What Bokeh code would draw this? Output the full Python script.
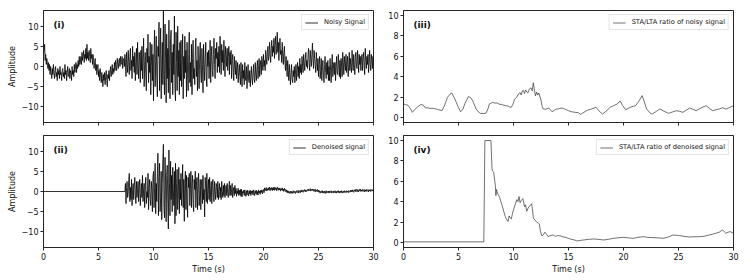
import numpy as np
from bokeh.plotting import figure
from bokeh.layouts import column, row
from bokeh.models import Label, FixedTicker, Range1d, CustomLabelingPolicy
from bokeh.embed import file_html
from bokeh.resources import INLINE

# ---------------- data ----------------
DT = 0.05  # sampling step of the traced signals (s)

noisy_signal = [
    2.5, 4.0, 5.5, 1.5, 3.0, 0.5, 2.0, 1.0, -0.5, 1.0,
    -1.0, 0.5, -2.0, 0.0, -1.5, -3.0, -0.5, -2.0, 0.5, -1.5,
    -3.0, -1.0, 0.0, -2.5, -1.5, -3.5, -0.5, -2.0, -1.0, -3.0,
    0.0, -2.0, -1.5, -3.5, -1.0, -0.5, -2.5, -1.5, -3.0, 0.5,
    -2.0, -1.0, -3.5, -1.5, 0.0, -2.5, -2.0, -0.5, -3.0, -1.0,
    -1.5, -3.5, 0.0, -2.0, -1.0, -2.5, 0.5, -1.5, -0.5, 1.0,
    -1.5, 0.5, -0.5, 1.5, 0.0, 2.5, 0.5, 1.0, 2.5, 0.5,
    3.5, 1.5, 2.5, 4.0, 1.0, 3.0, 2.0, 4.5, 1.5, 5.5,
    2.0, 3.5, 1.5, 4.0, 2.5, 1.0, 4.5, 2.0, 3.0, 0.5,
    3.0, 1.5, -0.5, 1.0, 2.0, -1.0, 0.5, -2.0, -0.5, 0.5,
    -2.5, -1.0, -3.5, -0.5, -2.0, -4.0, -1.5, -3.0, -5.0, -2.0,
    -3.5, -1.5, -4.5, -2.5, -1.0, -3.5, -5.0, -2.0, -3.0, -1.0,
    -3.5, -1.5, 0.0, -2.5, -1.0, 0.5, -2.0, -0.5, -1.5, 1.0,
    -1.0, 1.5, 0.0, -1.0, 2.0, 0.5, -0.5, 1.5, 2.0, 0.0,
    2.5, 0.5, 1.0, 2.5, -0.5, 1.5, 2.0, 0.0, 3.0, 1.0,
    -2.5, 3.5, 0.5, -1.5, 4.0, 1.0, -2.0, 2.5, 4.5, -1.0,
    1.5, -3.0, 5.0, 0.0, 2.5, -1.5, 3.5, -3.5, 1.0, 4.5,
    -2.0, 6.0, 0.5, -3.0, 3.5, 1.5, -4.0, 4.0, -1.0, 5.0,
    -3.0, 2.0, 7.0, -5.0, 0.5, 3.5, -2.5, -6.0, 4.5, 1.0,
    8.0, -4.0, 2.5, -1.5, 6.0, -7.0, 0.0, 5.5, -3.5, 3.0,
    -8.5, 4.0, 9.0, -5.0, 1.5, 7.5, -3.0, -7.5, 5.0, 2.5,
    11.0, -6.0, 3.0, 9.5, -8.0, 0.5, 6.0, -4.5, 14.5, -2.0,
    -7.0, 10.5, 2.0, -9.0, 8.0, -3.0, 4.5, -6.5, 11.5, 0.0,
    -8.0, 7.0, 9.0, -4.0, 3.5, -7.0, 5.5, -2.0, 12.5, -5.5,
    -8.5, 8.5, 1.0, -6.0, 10.0, -2.5, 4.0, -7.0, 6.0, -3.5,
    6.5, -5.0, 0.5, 8.0, -8.0, 2.5, -3.0, 7.5, -1.5, 4.0,
    -7.5, 6.0, -2.0, -6.0, 3.0, 8.5, -4.0, 1.0, -5.0, 5.5,
    -7.0, 2.0, 6.5, -3.0, -0.5, -4.5, 4.0, 7.0, -2.5, 1.5,
    -6.0, 5.0, -1.0, -5.5, 3.0, 6.0, -2.0, -4.0, 4.5, 0.5,
    -6.5, 5.5, 1.0, -3.5, 2.0, 6.0, -2.5, -5.0, 3.5, 0.0,
    4.0, -3.0, 1.5, 6.5, -4.0, 2.5, 5.0, -1.0, -2.5, 3.0,
    7.0, 0.5, -3.0, 4.5, 2.0, 6.0, -1.5, 3.5, 0.0, 5.0,
    -1.5, 7.5, 2.5, -2.0, 5.5, 1.0, 4.0, -1.0, 6.5, 2.0,
    -2.5, 5.0, 3.0, 0.0, 4.5, -1.0, 2.5, 5.0, -2.0, 3.5,
    0.5, 4.0, -3.0, 1.5, 3.0, -1.5, -3.5, 2.5, 0.0, -2.0,
    1.5, -3.0, -0.5, 1.0, -4.0, -1.5, 0.5, -2.5, -4.5, 1.0,
    -2.0, -5.0, 0.5, -3.0, -1.0, -4.5, 1.0, -2.5, -3.5, 0.0,
    -5.5, -2.0, 0.5, -3.5, -4.0, -1.0, -5.0, -2.5, 0.0, -3.0,
    -4.5, -1.5, 0.5, -3.0, -4.0, 1.0, -2.0, -3.5, -0.5, 1.5,
    -3.0, -1.0, 2.0, -2.5, 0.0, 1.5, -2.0, 2.5, 0.5, -1.0,
    3.0, 0.0, 1.5, -1.0, 4.0, 2.0, 0.5, 3.5, 5.0, 1.5,
    2.5, 6.0, 3.0, 1.0, 4.5, 6.5, 2.5, 5.0, 3.5, 7.0,
    2.0, 5.5, 7.5, 3.0, 4.5, 8.5, 3.5, 6.0, 1.5, 5.0,
    7.0, 3.0, 4.0, 1.0, 6.0, 2.5, 0.5, 3.5, 5.0, 1.0,
    -1.0, 2.5, 0.0, -2.5, 1.5, -1.0, -3.5, 0.5, -2.0, -4.5,
    -1.5, 0.5, -3.0, -4.0, -1.0, -2.5, 0.0, -4.0, -2.0, 0.5,
    -3.5, -1.0, 1.0, -2.5, 0.0, -3.0, 2.0, -1.5, 0.5, -2.0,
    2.5, 0.0, -1.5, 3.0, 1.0, -1.0, 2.0, 3.5, 0.0, 1.5,
    -0.5, 3.0, 4.5, 1.0, -1.0, 4.0, 2.0, 0.0, 3.0, 5.8,
    1.5, -0.5, 4.0, 2.0, 0.5, -1.5, 3.5, 1.0, -1.0, 2.0,
    -2.5, 0.5, 2.5, -3.0, -1.0, 2.0, -3.5, 0.0, 1.5, -2.0,
    -4.0, 0.5, 2.5, -1.5, -3.0, 1.0, -2.0, 1.5, -3.5, 0.0,
    -3.5, 2.0, -1.0, -4.0, 0.5, 3.0, -2.5, -0.5, 1.0, -2.0,
    1.0, -3.5, 0.0, 2.5, -1.5, -2.0, 3.0, 0.5, -2.5, 1.5,
    -3.0, 2.0, 0.0, -2.5, 3.5, 1.0, -2.0, 2.5, 0.5, -1.0,
    3.0, -1.5, 1.0, 2.5, -2.5, 0.5, 3.5, -1.0, 2.0, 0.0,
    -1.5, 4.0, 1.0, -1.0, 3.0, 0.5, -2.0, 2.5, 3.5, 0.0,
    -0.5, 4.0, 1.5, -1.5, 3.0, 0.5, 2.5, -1.0, 1.5, 3.0,
    -1.0, 2.0, 3.5, 0.0, -2.0, 4.5, 1.5, -0.5, 2.5, 0.5,
    3.0, -1.5, 1.0, 4.0, 0.5, -1.0, 3.0, 1.5, -0.5, 2.5,
    0.5,
]

denoised_onset = 7.4  # s; the denoised trace is flat zero before this
denoised_signal = [
    0.0, 2.0,
    -3.0, 1.0, 2.5, -1.5, -0.5, 3.0, 4.5, -2.5, 1.0, -2.0,
    3.0, -3.5, 0.5, 2.0, -2.0, 1.5, 3.5, -1.0, -3.0, 2.5,
    -1.5, 0.5, 2.5, -2.5, 1.0, 3.0, -3.5, -0.5, 2.0, -1.5,
    4.0, -2.5, 0.5, 2.0, -4.0, 1.5, 3.5, -3.0, 0.0, -1.5,
    4.5, -4.5, 1.0, 3.0, -2.0, -3.5, 2.5, 0.5, -5.0, 3.5,
    5.0, -4.0, 1.0, 7.0, -5.5, 2.0, -2.5, 4.5, 9.5, -6.0,
    3.0, 7.0, -5.0, -1.5, 5.0, -7.0, 2.0, 8.0, 11.7, -4.0,
    -6.5, 8.5, 1.5, -7.5, 4.0, 6.5, -3.0, -9.3, 10.3, 2.0,
    -6.0, 7.5, -2.0, 4.0, -5.0, 6.0, 0.5, -3.5, 5.0, -8.0,
    7.0, -6.0, 2.0, 5.5, -4.5, -1.0, 6.0, -5.5, 3.0, -2.0,
    4.5, -3.5, 1.0, 6.7, -4.0, 3.0, -7.4, 2.0, 5.0, -4.5,
    4.0, -2.0, -6.4, 3.5, 1.0, 4.5, -3.5, 0.5, 5.0, -4.0,
    2.0, 4.0, -3.0, -5.0, 3.0, 0.5, 5.0, -4.0, 1.5, 3.5,
    -4.5, 2.0, 4.5, -3.5, -1.0, 3.0, -4.5, 1.5, 3.0, -3.0,
    4.0, -2.0, 0.5, -6.3, 3.5, 1.0, -2.5, 4.5, -3.0, 0.5,
    3.0, -2.0, 3.5, -2.5, 0.5, 2.5, -3.0, 1.5, 3.0, -1.5,
    -2.5, 2.5, 0.0, -2.0, 2.0, 1.0, -1.5, 2.5, -2.0, 0.5,
    2.0, -1.5, 1.0, -2.0, 2.5, 0.0, -1.5, 1.5, -1.0, 2.0,
    -1.5, 0.5, 1.5, -1.0, 2.0, -0.5, -1.5, 1.0, 2.5, -1.0,
    1.5, -1.0, 0.5, 2.0, -1.5, 0.0, 1.0, -1.0, 1.5, -0.5,
    0.8, -1.2, 0.2, -0.5, 0.8, -1.0, 0.3, -0.8, 0.5, -1.2,
    0.6, -1.3, 0.0, -0.4, 0.3, -1.0, 0.4, -0.6, -1.2, 0.2,
    -0.9, 0.3, -0.3, -1.1, 0.2, -0.6, 0.3, -1.0, 0.1, -0.5,
    0.2, -0.9, 0.4, -0.3, -1.0, 0.2, -0.5, 0.3, -0.8, 0.0,
    -0.9, 0.4, -0.4, 0.1, -0.7, 0.3, -0.2, 0.4, -0.6, 0.2,
    0.5, -0.3, 0.9, 0.2, 0.6, 1.0, 0.1, 0.7, 0.3, 0.9,
    0.4, 1.1, 0.2, 0.8, 0.5, 1.0, 0.2, 0.9, 0.4, 1.1,
    0.3, 1.0, 0.5, 0.8, 0.2, 1.1, 0.6, 0.3, 0.9, 0.4,
    0.8, 0.1, 0.7, 0.4, 0.9, 0.2, 0.6, 0.0, 0.8, 0.3,
    0.5, -0.1, 0.4, -0.3, 0.2, -0.4, 0.1, -0.2, -0.5, 0.1,
    -0.4, 0.0, -0.5, -0.1, 0.2, -0.4, -0.2, 0.1, -0.5, -0.1,
    0.2, -0.3, -0.1, 0.3, -0.4, 0.0, 0.2, -0.3, 0.3, -0.1,
    0.4, 0.0, -0.2, 0.3, 0.1, 0.5, -0.1, 0.3, 0.0, 0.4,
    0.5, 0.1, 0.6, 0.2, 0.4, 0.7, 0.1, 0.5, 0.3, 0.6,
    0.2, 0.5, 0.0, 0.4, 0.6, -0.1, 0.3, 0.1, 0.5, -0.1,
    0.3, -0.2, 0.2, -0.4, 0.0, 0.1, -0.3, 0.2, -0.4, 0.0,
    -0.3, 0.1, -0.5, -0.1, 0.2, -0.4, 0.0, -0.2, 0.1, -0.4,
    0.1, -0.3, -0.1, 0.2, -0.4, 0.0, -0.2, 0.1, -0.4, -0.1,
    0.2, -0.3, 0.0, -0.4, 0.1, -0.2, 0.2, -0.3, 0.0, -0.4,
    0.1, -0.2, 0.2, -0.4, -0.1, 0.1, -0.3, 0.2, -0.2, 0.0,
    -0.3, 0.2, -0.1, 0.1, -0.3, 0.2, 0.0, -0.2, 0.3, -0.1,
    0.3, -0.1, 0.4, 0.0, -0.2, 0.4, 0.1, 0.5, -0.1, 0.3,
    0.6, 0.0, 0.3, -0.1, 0.5, 0.2, 0.6, 0.0, 0.4, 0.1,
    0.5, 0.0, 0.3, 0.5, -0.1, 0.4, 0.1, 0.5, 0.0, 0.3,
    0.5, -0.1, 0.4, 0.2, 0.5, 0.0, 0.3, 0.5, 0.1, 0.4,
    0.3,
]

sta_noisy_t = [0.0, 0.2, 0.4, 0.6, 0.8, 1.0, 1.3, 1.6, 1.8, 2.0, 2.2, 2.4, 2.6, 2.8, 3.0, 3.2, 3.5, 3.7,
               4.0, 4.2, 4.4, 4.6, 4.8, 5.0, 5.2, 5.4, 5.6, 5.9, 6.1, 6.3, 6.6, 6.8, 7.0, 7.3, 7.5, 7.7,
               7.8, 8.1, 8.3, 8.5, 8.7, 8.9, 9.1, 9.3, 9.5, 9.7, 9.8, 9.95, 10.1, 10.3, 10.45, 10.6,
               10.7, 10.8, 10.9, 11.0, 11.1, 11.2, 11.3, 11.45, 11.6, 11.7, 11.8, 11.9, 12.0, 12.1,
               12.2, 12.3, 12.5, 12.6, 12.7, 12.9, 13.2, 13.35, 13.5, 13.7, 13.9, 14.1, 14.4, 14.6,
               14.8, 15.0, 15.3, 15.6, 15.9, 16.1, 16.4, 16.7, 17.0, 17.3, 17.5, 17.8, 18.1, 18.4,
               18.8, 19.1, 19.4, 19.7, 19.9, 20.2, 20.6, 20.9, 21.1, 21.4, 21.7, 21.9, 22.1, 22.4,
               22.6, 23.0, 23.3, 23.7, 24.1, 24.5, 24.8, 25.1, 25.4, 25.7, 26.0, 26.3, 26.6, 27.0,
               27.5, 27.8, 28.1, 28.4, 28.7, 29.0, 29.3, 29.6, 30.0]
sta_noisy_v = [1.32, 1.25, 1.2, 0.9, 0.5, 0.75, 1.05, 1.28, 1.2, 0.92, 0.95, 0.88, 0.9, 0.86, 0.82, 0.75, 0.66, 1.1,
               1.97, 2.25, 2.4, 1.95, 1.48, 0.95, 0.56, 0.8, 1.4, 2.04, 1.95, 1.6, 0.83, 0.55, 0.4, 0.38, 0.42, 0.9,
               1.3, 1.48, 1.4, 1.42, 1.3, 1.28, 1.2, 1.15, 1.12, 1.0, 0.99, 1.3, 1.78, 2.0, 2.3, 2.43,
               2.2, 2.6, 2.64, 2.35, 2.7, 2.5, 2.4, 2.8, 2.9, 2.6, 3.4, 2.7, 2.1, 2.5,
               2.2, 2.4, 1.7, 1.1, 0.83, 0.8, 0.92, 0.75, 0.56, 0.7, 0.8, 0.85, 0.92, 0.85,
               0.75, 0.66, 0.55, 0.5, 0.46, 0.3, 0.5, 0.7, 0.8, 0.9, 1.0, 0.6, 0.33, 0.6,
               1.0, 1.15, 1.3, 1.6, 1.2, 0.75, 0.99, 1.1, 1.15, 1.6, 2.14, 1.5, 0.83, 0.45,
               0.33, 0.6, 0.83, 0.6, 0.4, 0.55, 0.66, 0.6, 0.5, 0.7, 0.92, 0.8, 0.66, 0.9,
               1.15, 0.9, 0.66, 0.75, 0.83, 0.95, 0.83, 0.95, 1.15]

sta_den_t = [0.0, 7.3, 7.4, 7.95, 8.0, 8.05, 8.1, 8.2, 8.3, 8.35, 8.4, 8.45, 8.5, 8.6, 8.75, 8.85, 8.95, 9.1,
             9.25, 9.35, 9.5, 9.6, 9.7, 9.8, 9.9, 10.0, 10.15, 10.3, 10.4, 10.5, 10.6, 10.7, 10.85, 11.0,
             11.1, 11.2, 11.3, 11.4, 11.5, 11.65, 11.75, 11.8, 11.95, 12.1, 12.25, 12.35, 12.45, 12.6,
             12.75, 12.85, 13.0, 13.15, 13.3, 13.6, 13.8, 14.0, 14.2, 14.5, 14.8, 15.1, 15.5, 15.8,
             16.1, 16.4, 16.8, 17.3, 17.7, 18.2, 18.6, 19.1, 19.5, 20.0, 20.4, 20.9, 21.3, 21.8,
             22.2, 22.7, 23.1, 23.6, 24.0, 24.5, 24.8, 25.1, 25.5, 26.0, 26.4, 26.9, 27.3, 27.8,
             28.1, 28.4, 28.7, 29.0, 29.2, 29.3, 29.5, 29.7, 30.0]
sta_den_v = [0.05, 0.05, 10.0, 10.0, 8.5, 7.2, 7.0, 6.9, 6.0, 5.6, 4.6, 5.2, 5.0, 4.7, 4.4, 4.0, 3.7, 3.1,
             2.55, 2.3, 2.05, 2.6, 2.4, 2.3, 2.8, 3.2, 3.7, 4.2, 4.0, 4.5, 3.9, 4.1, 4.3, 3.5,
             3.7, 3.05, 3.3, 3.5, 3.6, 3.8, 3.0, 2.4, 2.2, 2.0, 1.9, 1.8, 1.06, 0.63,
             0.8, 1.0, 0.8, 0.57, 0.65, 0.73, 0.6, 0.66, 0.66, 0.55, 0.47, 0.35, 0.25, 0.14,
             0.2, 0.24, 0.3, 0.34, 0.3, 0.24, 0.3, 0.4, 0.45, 0.5, 0.45, 0.4, 0.5, 0.56,
             0.5, 0.47, 0.45, 0.4, 0.5, 0.73, 0.7, 0.66, 0.6, 0.53, 0.55, 0.56, 0.6, 0.73,
             0.8, 0.9, 1.0, 1.23, 1.0, 0.9, 1.0, 1.06, 0.9]

x_ticks = [0, 5, 10, 15, 20, 25, 30]
amp_ticks = [-10, -5, 0, 5, 10]
ratio_ticks = [0, 2, 4, 6, 8, 10]
panel_tags = ["(i)", "(ii)", "(iii)", "(iv)"]
legend_texts = ["Noisy Signal", "Denoised signal", "STA/LTA ratio of noisy signal",
                "STA/LTA ratio of denoised signal"]

# ---------------- derived arrays ----------------
noisy_t = np.arange(len(noisy_signal)) * DT
den_t = np.concatenate([[0.0], denoised_onset + np.arange(len(denoised_signal)) * DT])
den_v = np.concatenate([[0.0], denoised_signal])

FONT = "DejaVu Sans"
FRAME_COL = "#262626"


def make_panel(border_left, border_right, border_top, border_bottom, y_lim, y_ticks,
               show_xlabels, ylabel):
    p = figure(frame_width=330, frame_height=112, output_backend="svg", toolbar_location=None,
               x_range=Range1d(0, 30), y_range=Range1d(*y_lim),
               min_border_left=border_left, min_border_right=border_right,
               min_border_top=border_top, min_border_bottom=border_bottom)
    p.xgrid.visible = False
    p.ygrid.visible = False
    p.outline_line_color = FRAME_COL
    p.outline_line_width = 1
    p.background_fill_color = "white"
    p.border_fill_color = "white"
    for ax in (p.xaxis[0], p.yaxis[0]):
        ax.axis_line_color = FRAME_COL
        ax.major_tick_line_color = FRAME_COL
        ax.major_tick_out = 3
        ax.major_tick_in = 0
        ax.minor_tick_line_color = None
        ax.major_label_text_font = FONT
        ax.major_label_text_font_size = "8px"
        ax.major_label_text_color = "#111111"
        ax.major_label_standoff = 2
        ax.axis_label_text_font = FONT
        ax.axis_label_text_font_size = "8px"
        ax.axis_label_text_font_style = "normal"
        ax.axis_label_text_color = "#111111"
        ax.axis_label_standoff = 2
    p.xaxis.ticker = FixedTicker(ticks=x_ticks)
    p.yaxis.ticker = FixedTicker(ticks=y_ticks)
    p.yaxis.major_label_overrides = {t: ("\u2212" + str(abs(t)) if t < 0 else str(t)) for t in y_ticks}
    if show_xlabels:
        p.xaxis.axis_label = "Time (s)"
    else:
        # shared x axis: ticks only, no tick labels
        p.xaxis.major_label_text_font_size = "1px"
        p.xaxis.major_label_standoff = 0
        p.xaxis.major_label_policy = CustomLabelingPolicy(code="return []")
    if ylabel:
        p.yaxis.axis_label = ylabel
    return p


def style_legend(p):
    lg = p.legend[0]
    lg.location = "top_right"
    lg.margin = 4
    lg.padding = 3
    lg.spacing = 0
    lg.label_text_font = FONT
    lg.label_text_font_size = "6.7px"
    lg.label_text_color = "#111111"
    lg.glyph_width = 13
    lg.glyph_height = 7
    lg.label_height = 7
    lg.label_standoff = 6
    lg.border_line_color = "#cccccc"
    lg.border_line_width = 1
    lg.background_fill_alpha = 0.85


def tag(p, text, y):
    p.add_layout(Label(x=0.9, y=y, text=text, text_font=FONT, text_font_size="9px",
                       text_font_style="bold", text_baseline="middle", text_align="left",
                       text_color="#111111"))


AMP_LIM = (-13.9, 13.9)
RAT_LIM = (-0.5, 10.5)

p1 = make_panel(43, 10, 10, 6, AMP_LIM, amp_ticks, False, "Amplitude")
p1.line(noisy_t, noisy_signal, line_color="black", line_width=0.8, legend_label=legend_texts[0])
style_legend(p1)
tag(p1, panel_tags[0], 10.3)

p2 = make_panel(43, 10, 6, 33, AMP_LIM, amp_ticks, True, "Amplitude")
p2.line(den_t, den_v, line_color="black", line_width=0.8, legend_label=legend_texts[1])
style_legend(p2)
tag(p2, panel_tags[1], 10.4)

p3 = make_panel(20, 13, 10, 6, RAT_LIM, ratio_ticks, False, None)
p3.line(sta_noisy_t, sta_noisy_v, line_color="#333333", line_width=0.7, legend_label=legend_texts[2])
style_legend(p3)
tag(p3, panel_tags[2], 9.1)

p4 = make_panel(20, 13, 6, 33, RAT_LIM, ratio_ticks, True, None)
p4.line(sta_den_t, sta_den_v, line_color="#333333", line_width=0.7, legend_label=legend_texts[3])
style_legend(p4)
tag(p4, panel_tags[3], 9.1)

layout = column(row(p1, p3), row(p2, p4))

open("out.html", "w").write(file_html(layout, INLINE))
